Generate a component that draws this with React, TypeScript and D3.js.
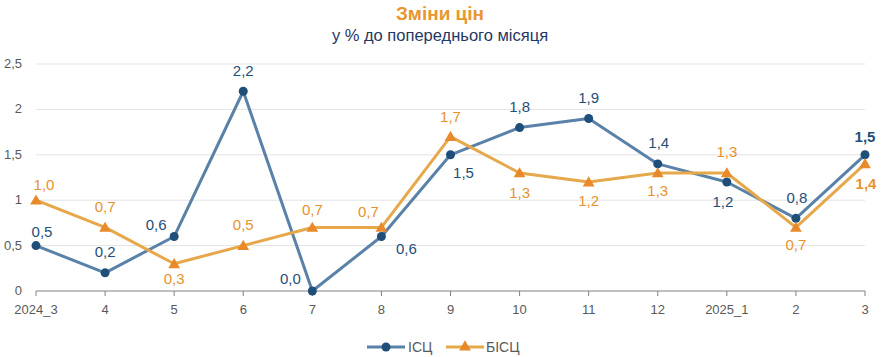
import React from "react";
import * as d3 from "d3";

const categories = ["2024_3", "4", "5", "6", "7", "8", "9", "10", "11", "12", "2025_1", "2", "3"];
const isc = [0.5, 0.2, 0.6, 2.2, 0.0, 0.6, 1.5, 1.8, 1.9, 1.4, 1.2, 0.8, 1.5];
const bisc = [1.0, 0.7, 0.3, 0.5, 0.7, 0.7, 1.7, 1.3, 1.2, 1.3, 1.3, 0.7, 1.4];
const yTicks = [0, 0.5, 1, 1.5, 2, 2.5];
// label placement: [dx, dy]
const iscLabelPos: [number, number][] = [
  [6, -14], [0, -21], [-18, -12], [0, -20], [-22, -12], [25, 12], [13, 18], [0, -21], [0, -21], [1, -21], [-4, 20], [1, -21], [0, -18],
];
const bisLabelPos: [number, number][] = [
  [8, -15], [0, -21], [0, 15], [0, -21], [0, -18], [-13, -16], [0, -20], [0, 20], [0, 19], [0, 18], [0, -21], [0, 17], [1, 20],
];

const W = 891, H = 357;
const fmt = (v: number) => v.toFixed(1).replace(".", ",");
const FONT = "'Liberation Sans', Arial, sans-serif";

export default function App() {
  const x = d3.scalePoint<string>().domain(categories).range([36, 865]);
  const y = d3.scaleLinear().domain([0, 2.5]).range([291, 64]);
  const line = d3.line<number>().x((_, i) => x(categories[i])!).y((d) => y(d));
  const tri = d3.symbol().type(d3.symbolTriangle).size(60)()!;
  const blueLine = "#5a82a8", blueDot = "#1f4e79", blueText = "#1f4e79";
  const orLine = "#e6a84a", orDot = "#e8892a", orText = "#e8922e";
  return (
    <svg width={W} height={H} style={{ display: "block", position: "absolute", left: 0, top: 0 }} fontFamily={FONT}>
      <rect width={W} height={H} fill="#fff" />
      <text x={440} y={20} textAnchor="middle" fontSize={19} fontWeight="bold" fill="#e8962e">Зміни цін</text>
      <text x={440} y={41} textAnchor="middle" fontSize={16.5} fill="#1f3864">у % до попереднього місяця</text>
      {yTicks.map((t) => (
        <g key={t}>
          {t > 0 && <line x1={36} x2={865} y1={y(t)} y2={y(t)} stroke="#e3e3e3" strokeWidth={1} />}
          <text x={22} y={y(t) + 4} textAnchor="end" fontSize={13} fill="#595959">{String(t).replace(".", ",")}</text>
        </g>
      ))}
      <line x1={36} x2={865} y1={y(0)} y2={y(0)} stroke="#808080" strokeWidth={1} />
      {categories.map((c) => (
        <g key={c}>
          <line x1={x(c)} x2={x(c)} y1={y(0)} y2={y(0) + 5} stroke="#808080" />
          <text x={x(c)} y={y(0) + 23} textAnchor="middle" fontSize={13} fill="#595959">{c}</text>
        </g>
      ))}
      <path d={line(isc)!} fill="none" stroke={blueLine} strokeWidth={3} strokeLinejoin="round" />
      <path d={line(bisc)!} fill="none" stroke={orLine} strokeWidth={3} strokeLinejoin="round" />
      {isc.map((v, i) => (
        <circle key={"c" + i} cx={x(categories[i])} cy={y(v)} r={4.5} fill={blueDot} />
      ))}
      {bisc.map((v, i) => (
        <path key={"t" + i} d={tri} transform={`translate(${x(categories[i])},${y(v) + 1})`} fill={orDot} />
      ))}
      {isc.map((v, i) => (
        <text key={"li" + i} x={x(categories[i])! + iscLabelPos[i][0]} y={y(v) + iscLabelPos[i][1]} dy="0.35em"
          textAnchor="middle" fontSize={15} fill={blueText} fontWeight={i === isc.length - 1 ? "bold" : "normal"}>{fmt(v)}</text>
      ))}
      {bisc.map((v, i) => (
        <text key={"lb" + i} x={x(categories[i])! + bisLabelPos[i][0]} y={y(v) + bisLabelPos[i][1]} dy="0.35em"
          textAnchor="middle" fontSize={15} fill={orText} fontWeight={i === bisc.length - 1 ? "bold" : "normal"}>{fmt(v)}</text>
      ))}
      <g>
        <line x1={367} x2={405} y1={347} y2={347} stroke={blueLine} strokeWidth={3} />
        <circle cx={386} cy={347} r={4.5} fill={blueDot} />
        <text x={408} y={352} fontSize={14} fill="#595959">ІСЦ</text>
        <line x1={446} x2={484} y1={347} y2={347} stroke={orLine} strokeWidth={3} />
        <path d={tri} transform="translate(465,347)" fill={orDot} />
        <text x={486} y={352} fontSize={14} fill="#595959">БІСЦ</text>
      </g>
    </svg>
  );
}
